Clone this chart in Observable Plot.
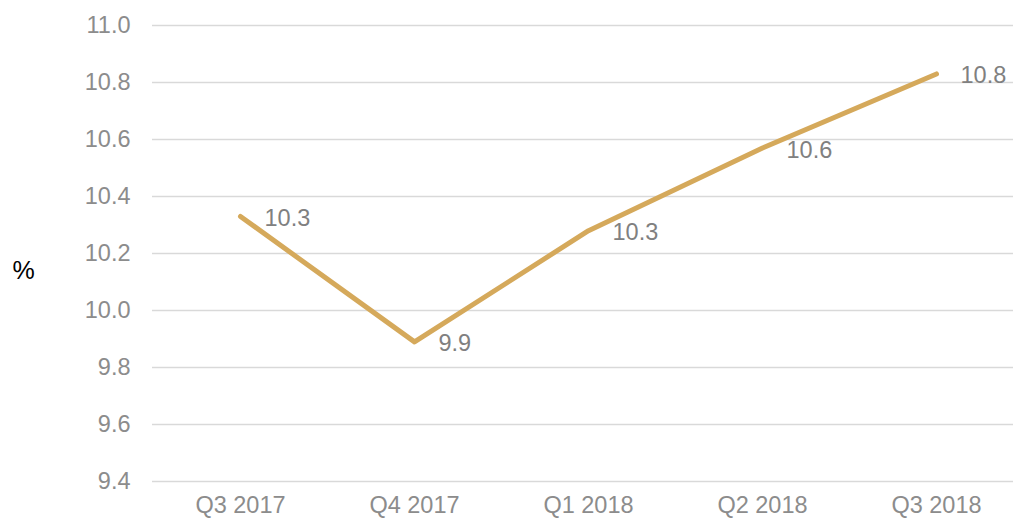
<!DOCTYPE html>
<html>
<head>
<meta charset="utf-8">
<script src="https://cdn.jsdelivr.net/npm/d3@7"></script>
<script src="https://cdn.jsdelivr.net/npm/@observablehq/plot@0.6"></script>
<style>
  html, body { margin: 0; padding: 0; background: #fff; }
  #chart svg { display: block; }
</style>
</head>
<body>
<div id="chart"></div>
<script>
const quarters = ["Q3 2017", "Q4 2017", "Q1 2018", "Q2 2018", "Q3 2018"];
const values = [10.33, 9.89, 10.28, 10.57, 10.83];
const labels = ["10.3", "9.9", "10.3", "10.6", "10.8"];
const yTicks = [9.4, 9.6, 9.8, 10.0, 10.2, 10.4, 10.6, 10.8, 11.0];
const unitLabel = ["%"];

const data = quarters.map((q, i) => ({q, v: values[i], label: labels[i]}));

const chart = Plot.plot({
  width: 1013,
  height: 523,
  marginLeft: 152,
  marginRight: 0,
  marginTop: 25,
  marginBottom: 42,
  style: {fontFamily: "'Liberation Sans', Arial, sans-serif", fontSize: "23.5px", background: "#fff"},
  x: {type: "point", domain: quarters, range: [239, 936], padding: 0},
  y: {domain: [9.4, 11.0]},
  marks: [
    Plot.gridY(yTicks, {stroke: "#d9d9d9", strokeOpacity: 1, strokeWidth: 1.5}),
    Plot.axisY(yTicks, {tickSize: 0, tickPadding: 22, tickFormat: d => d.toFixed(1), fill: "#8c8c8c", fontSize: 23.5, label: null}),
    Plot.axisX({tickSize: 0, tickPadding: 15, fill: "#8c8c8c", fontSize: 23.5, label: null}),
    Plot.line(data, {x: "q", y: "v", stroke: "#d5a95b", strokeWidth: 5, strokeLinecap: "round", strokeLinejoin: "round"}),
    Plot.text(data, {x: "q", y: "v", text: "label", dx: 24, dy: 2, textAnchor: "start", fill: "#808080", fontSize: 23.5}),
    Plot.text(unitLabel, {text: d => d, frameAnchor: "left", dx: -140, dy: 17, textAnchor: "start", fill: "#000", fontSize: 25})
  ]
});
document.getElementById("chart").appendChild(chart);
</script>
</body>
</html>
